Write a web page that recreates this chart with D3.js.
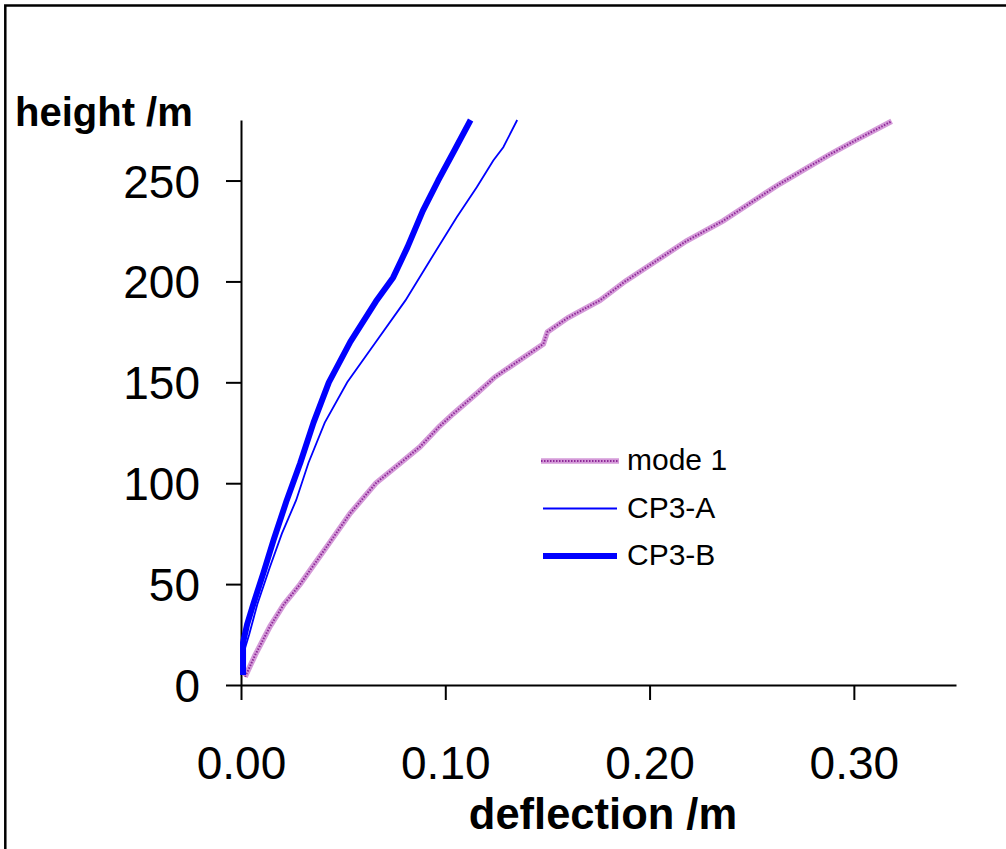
<!DOCTYPE html>
<html>
<head>
<meta charset="utf-8">
<script src="https://cdnjs.cloudflare.com/ajax/libs/d3/7.8.5/d3.min.js"></script>
<style>
    body { margin: 0; background: #fff; }
    svg { display: block; font-family: Arial, "Liberation Sans", sans-serif; }
</style>
</head>
<body>
<div id="root"></div>
<script>
// series values: [deflection m, height m]
const mode1 = [
    [0.002, 4], [0.007, 15], [0.0142, 29], [0.021, 40], [0.029, 50], [0.036, 60],
    [0.043, 70], [0.0534, 85], [0.066, 100], [0.078, 110], [0.0876, 118], [0.097, 128],
    [0.104, 134.5], [0.116, 145], [0.1243, 152.6], [0.135, 160], [0.148, 169], [0.150, 175],
    [0.160, 182], [0.1757, 190.6], [0.188, 200], [0.203, 210], [0.218, 220], [0.236, 230],
    [0.251, 240], [0.2638, 248.4], [0.2883, 263], [0.301, 270], [0.3185, 279.4]
];
const cp3a = [
    [0.001, 5], [0.001, 15], [0.004, 25], [0.008, 40], [0.0142, 58.6], [0.020, 75],
    [0.027, 91.6], [0.033, 110], [0.041, 130], [0.052, 150], [0.066, 170], [0.0805, 190.6],
    [0.0925, 210.4], [0.1056, 231.8], [0.1154, 246.7], [0.1235, 259.9], [0.1284, 266.5],
    [0.1352, 280]
];
const cp3b = [
    [0.001, 5], [0.001, 21], [0.003, 30], [0.006, 40], [0.0109, 55.3], [0.016, 72],
    [0.0224, 91.6], [0.029, 110], [0.0355, 130], [0.043, 150], [0.0535, 170], [0.066, 190],
    [0.0745, 202], [0.0815, 217], [0.089, 235], [0.0965, 250], [0.1045, 265], [0.1124, 280]
];
const seriesNames = ['mode 1', 'CP3-A', 'CP3-B'];
const xTicks = [0, 0.1, 0.2, 0.3];
const yTicks = [0, 50, 100, 150, 200, 250];

const WIDTH = 1006;
const HEIGHT = 849;
const plot = { left: 241, right: 956, top: 120, bottom: 685 };

const x = d3.scaleLinear().domain([0, 0.35]).range([plot.left, plot.right]);
const y = d3.scaleLinear().domain([0, 280]).range([plot.bottom, plot.top]);

const svg = d3.select('#root').append('svg')
    .attr('width', WIDTH)
    .attr('height', HEIGHT);

// outer frame, runs off the right and bottom edges
svg.append('rect')
    .attr('x', 5.3).attr('y', 5.5)
    .attr('width', 1100).attr('height', 1000)
    .attr('fill', 'none')
    .attr('stroke', '#000')
    .attr('stroke-width', 2.5);

const xAxis = d3.axisBottom(x).tickValues(xTicks).tickFormat(d3.format('.2f'))
    .tickSize(15).tickSizeOuter(0).tickPadding(46);
const yAxis = d3.axisLeft(y).tickValues(yTicks)
    .tickSize(15).tickSizeOuter(0).tickPadding(26);

const gx = svg.append('g')
    .attr('transform', `translate(0, ${plot.bottom})`)
    .call(xAxis);
const gy = svg.append('g')
    .attr('transform', `translate(${plot.left}, 0)`)
    .call(yAxis);

[gx, gy].forEach(g => {
    g.select('.domain').attr('stroke', '#000').attr('stroke-width', 2);
    g.selectAll('.tick line').attr('stroke', '#000').attr('stroke-width', 2);
    g.selectAll('.tick text')
        .attr('fill', '#000')
        .style('font-size', '46px')
        .style('font-family', 'Arial, "Liberation Sans", sans-serif');
});
gy.selectAll('.tick text').attr('dy', '0.36em');

svg.append('text')
    .attr('x', 15).attr('y', 126)
    .style('font-size', '40px').style('font-weight', 'bold')
    .text('height /m');

svg.append('text')
    .attr('x', 603).attr('y', 829)
    .style('text-anchor', 'middle')
    .style('font-size', '43.5px').style('font-weight', 'bold')
    .text('deflection /m');

const line = d3.line().x(d => x(d[0])).y(d => y(d[1]));

// mode 1: light purple band with dark dots
svg.append('path').datum(mode1)
    .attr('d', line).attr('fill', 'none')
    .attr('stroke', '#d49ad8').attr('stroke-width', 5.5);
svg.append('path').datum(mode1)
    .attr('d', line).attr('fill', 'none')
    .attr('stroke', '#8e2a98').attr('stroke-width', 2)
    .attr('stroke-dasharray', '1.5,1.5');

svg.append('path').datum(cp3a)
    .attr('d', line).attr('fill', 'none')
    .attr('stroke', '#0000ff').attr('stroke-width', 1.8);

svg.append('path').datum(cp3b)
    .attr('d', line).attr('fill', 'none')
    .attr('stroke', '#0000ff').attr('stroke-width', 6)
    .attr('stroke-linejoin', 'round');

// legend
const legendStyles = [
    { stroke: '#d49ad8', width: 5.5, dots: true },
    { stroke: '#0000ff', width: 1.8 },
    { stroke: '#0000ff', width: 6 }
];
const legend = svg.selectAll('.legend')
    .data(seriesNames)
    .enter().append('g')
    .attr('class', 'legend')
    .attr('transform', (d, i) => `translate(0, ${461 + i * 47.5})`);

legend.append('line')
    .attr('x1', (d, i) => i === 0 ? 541 : 543).attr('x2', (d, i) => i === 0 ? 619 : 617)
    .attr('stroke', (d, i) => legendStyles[i].stroke)
    .attr('stroke-width', (d, i) => legendStyles[i].width);

legend.filter((d, i) => legendStyles[i].dots).append('line')
    .attr('x1', 541).attr('x2', 619)
    .attr('stroke', '#8e2a98').attr('stroke-width', 2)
    .attr('stroke-dasharray', '1.5,1.5');

legend.append('text')
    .attr('x', 627).attr('y', 9)
    .style('font-size', '30px')
    .text(d => d);
</script>
</body>
</html>
